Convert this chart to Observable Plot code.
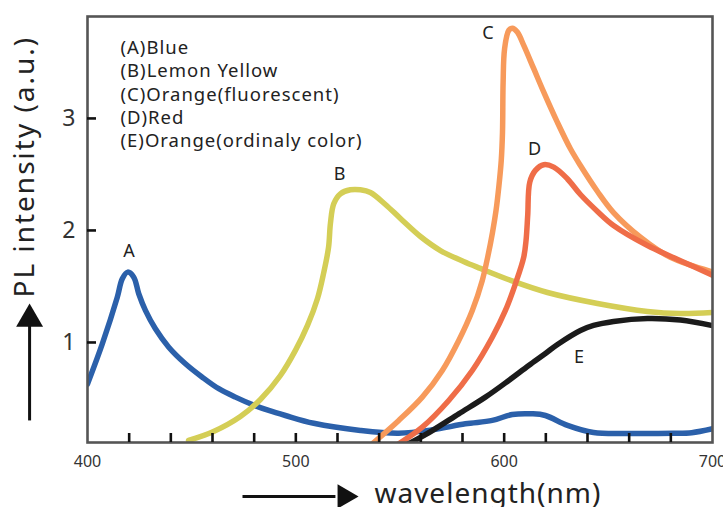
<!DOCTYPE html>
<html><head><meta charset="utf-8">
<script src="https://cdn.jsdelivr.net/npm/d3@7"></script>
<script src="https://cdn.jsdelivr.net/npm/@observablehq/plot@0.6"></script>
<style>body{margin:0;background:#fff;}</style>
</head><body><div id="chart"></div>
<script>
// Series data (wavelength nm, PL intensity a.u.)
const wlA = [400, 407.1, 414.3, 416.7, 419.3, 422.2, 424.6, 427.8, 432.6, 439, 447, 455.1, 463, 471, 479.1, 487, 495, 508.6, 531, 549.4, 565.5, 581.4, 594.3, 603.9, 613.5, 619.8, 630.4, 642.9, 662, 681, 690, 700];
const valA = [0.63, 0.988, 1.404, 1.569, 1.628, 1.583, 1.435, 1.286, 1.122, 0.958, 0.81, 0.69, 0.587, 0.512, 0.446, 0.393, 0.348, 0.279, 0.215, 0.19, 0.22, 0.274, 0.304, 0.357, 0.363, 0.348, 0.26, 0.196, 0.188, 0.19, 0.195, 0.23];
const wlB = [448.5, 460.5, 473.4, 483.0, 492.6, 499.8, 505.6, 510.4, 513.3, 515.7, 516.6, 518.2, 521.4, 526.2, 531.0, 535.8, 543.0, 550.2, 559.8, 569.4, 580.5, 588.6, 604.5, 620.8, 644.8, 668.8, 684.6, 700];
const valB = [0.125, 0.205, 0.339, 0.491, 0.705, 0.929, 1.152, 1.393, 1.616, 1.848, 2.062, 2.238, 2.327, 2.363, 2.363, 2.339, 2.232, 2.107, 1.946, 1.821, 1.723, 1.661, 1.545, 1.446, 1.348, 1.277, 1.259, 1.268];
const wlC = [536.7, 549.4, 560.7, 570.3, 578.2, 584.7, 589.5, 592.2, 594.4, 596.1, 597.5, 598.6, 599.2, 599.5, 600.2, 602.2, 603.9, 606.3, 609.4, 614.2, 619.0, 625.5, 631.8, 636.6, 644.8, 652.5, 665.4, 679.8, 700];
const valC = [0.096, 0.304, 0.512, 0.75, 1.018, 1.286, 1.554, 1.772, 1.982, 2.179, 2.402, 2.625, 2.878, 3.324, 3.622, 3.786, 3.806, 3.771, 3.652, 3.444, 3.235, 2.967, 2.729, 2.58, 2.348, 2.16, 1.94, 1.76, 1.63];
const wlD = [549.4, 560.7, 573.4, 584.7, 594.3, 600.6, 605.4, 609.4, 610.5, 611.3, 612.3, 615.0, 619.0, 623.8, 630.3, 636.6, 644.8, 652.5, 668.8, 684.6, 700];
const valD = [0.096, 0.244, 0.482, 0.75, 1.047, 1.286, 1.524, 1.762, 1.911, 2.134, 2.431, 2.536, 2.587, 2.565, 2.462, 2.321, 2.17, 2.045, 1.866, 1.73, 1.6];
const wlE = [554.2, 565.5, 578.2, 591.0, 602.2, 611.8, 619.8, 625.6, 636.6, 642.9, 652.5, 668.8, 684.6, 700];
const valE = [0.096, 0.214, 0.363, 0.512, 0.661, 0.795, 0.902, 0.982, 1.107, 1.152, 1.188, 1.214, 1.20, 1.15];

const seriesKeys = ["A", "B", "C", "D", "E"];
const seriesColors = ["#2b60aa", "#d4ce56", "#f79a5b", "#ef6d48", "#1b1b1b"];
const legendLines = ["(A)Blue", "(B)Lemon Yellow", "(C)Orange(fluorescent)", "(D)Red", "(E)Orange(ordinaly color)"];

// curve letter labels
const labelKeys = ["A", "B", "C", "D", "E"];
const labelWl = [419.9, 521.0, 592.2, 614.6, 635.9];
const labelVal = [1.817, 2.504, 3.759, 2.723, 0.871];

// ticks
const xTickLabels = [400, 500, 600, 700];
const xMinorTicks = [420, 440, 460, 480, 500, 520, 540, 560, 580, 600, 620, 640, 660, 680];
const yTicks = [1, 2, 3];

const xDomain = [400, 700];
const yDomain = [0.107, 3.91];

// axis titles and arrows (in data units, outside the frame)
const yTitle = [{text: "PL intensity (a.u.)", x: 369.8, y: 2.57}];
const xTitle = [{text: "wavelength(nm)", x: 592.2, y: -0.4375}];
const yArrowShaft = [{x1: 372.2, y1: 0.304, x2: 372.2, y2: 1.16}];
const yArrowHead = [{x: 372.2, y: 1.21}];
const xArrowShaft = [{x1: 474.4, y1: -0.375, x2: 519.0, y2: -0.375}];
const xArrowHead = [{x: 523.4, y: -0.375}];

const table = [];
const wls = [wlA, wlB, wlC, wlD, wlE];
const vals = [valA, valB, valC, valD, valE];
seriesKeys.forEach((k, i) => wls[i].forEach((w, j) => table.push({series: k, wl: w, v: vals[i][j]})));

const tickLenX = 9 / 112;  // in y-units
const tickLenY = 9 * 0.48; // in x-units

const font = "'Noto Sans', 'Liberation Sans', sans-serif";

const chart = Plot.plot({
  width: 723, height: 507,
  marginLeft: 87, marginRight: 11, marginTop: 16, marginBottom: 65,
  style: {fontFamily: font, background: "#fff"},
  x: {domain: xDomain},
  y: {domain: yDomain},
  marks: [
    ...seriesKeys.map((k, i) => Plot.line(table.filter(d => d.series === k), {
      x: "wl", y: "v", stroke: seriesColors[i], strokeWidth: 5.5, curve: "catmull-rom", clip: true
    })),
    Plot.frame({stroke: "#555", strokeWidth: 2.6}),
    Plot.ruleX(xMinorTicks, {x: d => d, y1: yDomain[0], y2: yDomain[0] + tickLenX, stroke: "#111", strokeWidth: 2.6}),
    Plot.ruleY(yTicks, {y: d => d, x1: xDomain[0], x2: xDomain[0] + tickLenY, stroke: "#111", strokeWidth: 2.6}),
    Plot.axisX({ticks: xTickLabels, tickSize: 0, tickPadding: 13, fontSize: 16, fill: "#333", label: null, tickFormat: d => String(d)}),
    Plot.axisY({ticks: yTicks, tickSize: 0, tickPadding: 12, fontSize: 23, fill: "#333", label: null, tickFormat: d => String(d)}),
    Plot.text(labelKeys, {x: (d, i) => labelWl[i], y: (d, i) => labelVal[i], text: d => d, fontSize: 18, fill: "#222"}),
    Plot.text([legendLines.join("\n")], {frameAnchor: "top-left", dx: 33, dy: 21, textAnchor: "start", lineAnchor: "top", lineHeight: 1.26, fontSize: 18.5, fill: "#222"}),
    Plot.text(yTitle, {x: "x", y: "y", text: "text", rotate: -90, fontSize: 28, fill: "#222"}),
    Plot.text(xTitle, {x: "x", y: "y", text: "text", lineAnchor: "bottom", fontSize: 28, fill: "#222"}),
    Plot.link(yArrowShaft, {x1: "x1", y1: "y1", x2: "x2", y2: "y2", stroke: "#111", strokeWidth: 3}),
    Plot.dot(yArrowHead, {x: "x", y: "y", symbol: "triangle", r: 10, fill: "#111", stroke: "none"}),
    Plot.link(xArrowShaft, {x1: "x1", y1: "y1", x2: "x2", y2: "y2", stroke: "#111", strokeWidth: 3}),
    Plot.dot(xArrowHead, {x: "x", y: "y", symbol: "triangle", r: 9, fill: "#111", stroke: "none", rotate: 90})
  ]
});
d3.select(chart).selectAll("text").each(function() {
  const t = this.textContent;
  if (t.startsWith("(A)Blue")) d3.select(this).style("letter-spacing", "1px");
  else if (t === "PL intensity (a.u.)") d3.select(this).style("letter-spacing", "2px");
  else if (t === "wavelength(nm)") d3.select(this).style("letter-spacing", "1px");
});
document.getElementById("chart").appendChild(chart);
</script>
</body></html>
